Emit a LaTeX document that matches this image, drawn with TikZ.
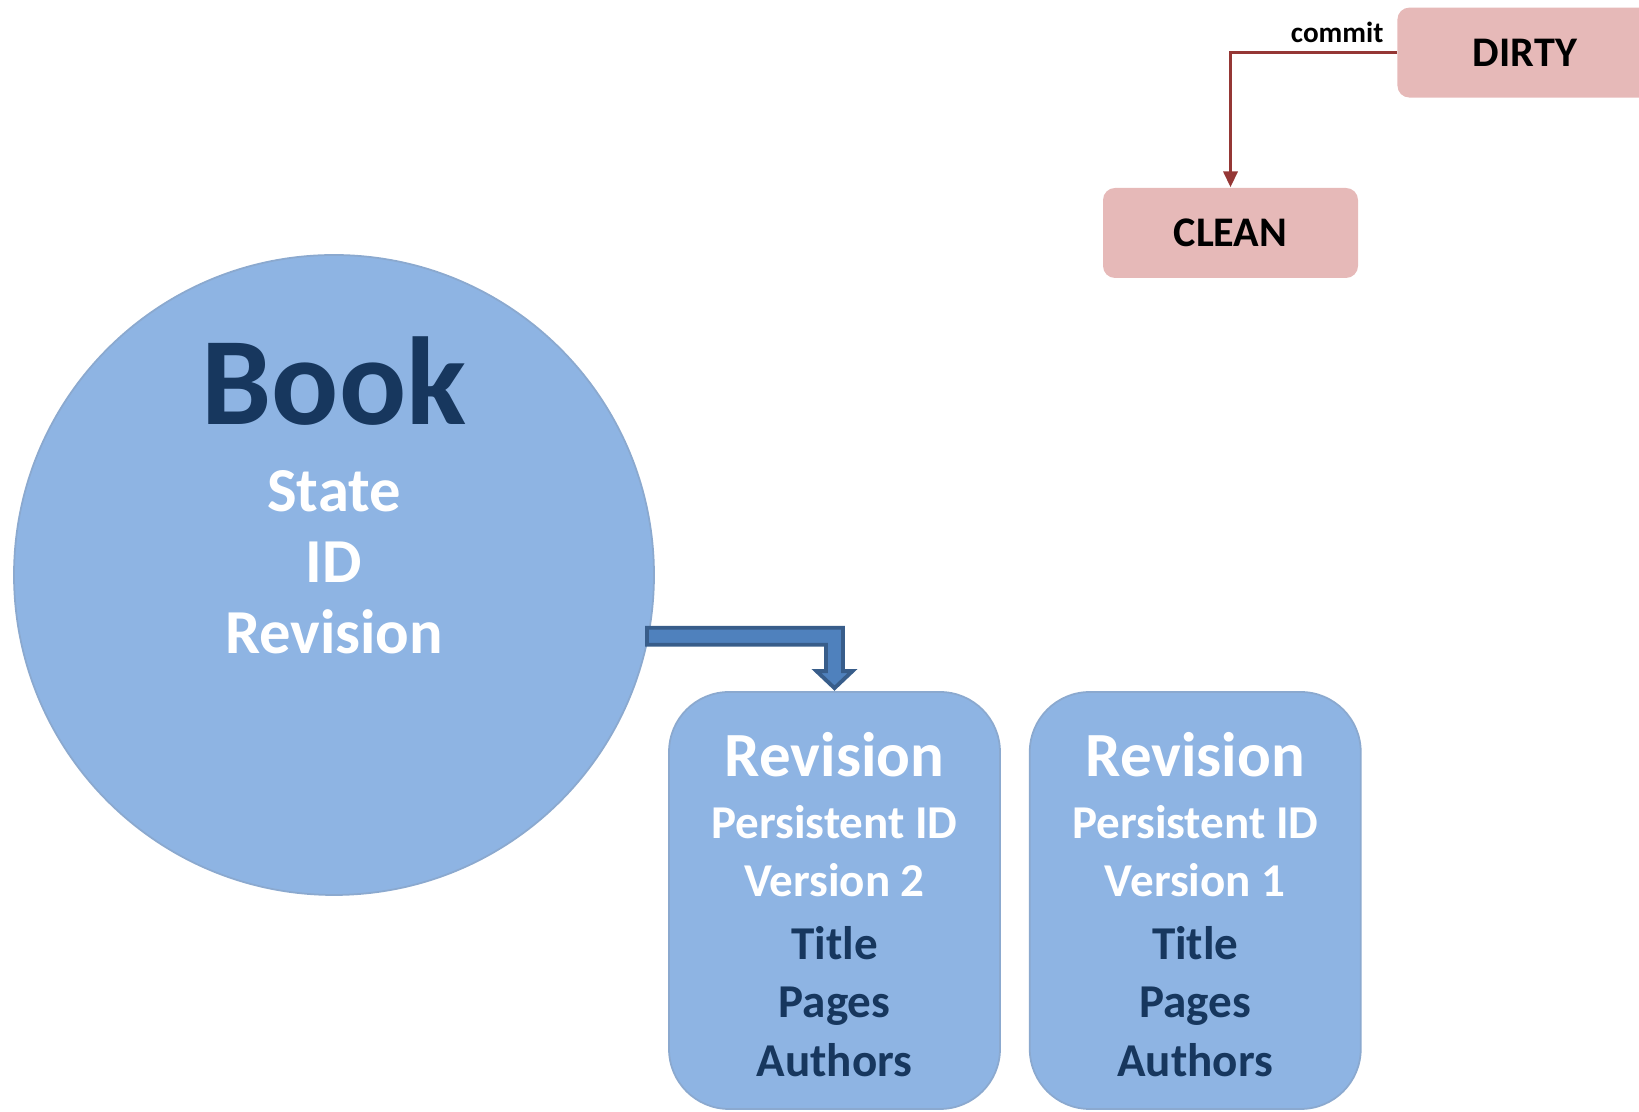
\documentclass[tikz,border=0pt]{standalone}
\usepackage{fontspec}
\setmainfont{Carlito}
\usetikzlibrary{arrows.meta, positioning, calc}
\definecolor{bookblue}{RGB}{142, 180, 227}
\definecolor{booknavy}{RGB}{23, 55, 94}
\definecolor{statepink}{RGB}{230, 185, 184}
\definecolor{commitred}{RGB}{149, 55, 53}
\definecolor{linkblue}{RGB}{79, 129, 189}
\definecolor{linkborder}{RGB}{56, 93, 138}

\begin{document}
\begin{tikzpicture}[
  bookcircle/.style={circle, fill=bookblue, draw=bookblue!80!gray, line width=0.5pt, minimum size=6.4cm, inner sep=0pt},
  revbox/.style={fill=bookblue, draw=bookblue!80!gray, line width=0.5pt, rounded corners=0.6cm, minimum width=3.31cm, minimum height=4.17cm, align=center, inner sep=0pt, font=\fontsize{13.4}{16.6}\selectfont\bfseries, text=booknavy},
  statebox/.style={fill=statepink, rounded corners=0.12cm, minimum width=2.55cm, minimum height=0.9cm, inner sep=0pt, font=\fontsize{12}{14}\selectfont\bfseries}
]
  \clip (0,0) rectangle (16.39,11.12);

  % Book entity
  \node[bookcircle] (book) at (3.34, 5.37) {};
  \node[align=center, font=\fontsize{17.8}{20.2}\selectfont\bfseries, text=white] (booktext) at ([yshift=0.8cm]book.center)
    {{\fontsize{35.6}{40}\selectfont\color{booknavy}Book}\\[4.5pt] State\\ ID\\ Revision};

  % Revisions
  \node[revbox] (rev2) at (8.345, 2.115)
    {{\fontsize{17.9}{21}\selectfont\color{white}\rule{0pt}{14.8pt}Revision}\\[1pt] \textcolor{white}{Persistent ID}\\ \textcolor{white}{Version 2}\\[1.3pt] Title\\ Pages\\ Authors};
  \node[revbox, right=0.28cm of rev2] (rev1)
    {{\fontsize{17.9}{21}\selectfont\color{white}\rule{0pt}{14.8pt}Revision}\\[1pt] \textcolor{white}{Persistent ID}\\ \textcolor{white}{Version 1}\\[1.3pt] Title\\ Pages\\ Authors};

  % Book -> current revision
  \coordinate (linkstart) at (book.-11);
  \coordinate (linkbend) at (rev2.north |- linkstart);
  \filldraw[fill=linkblue, draw=linkborder, line width=1.1pt, line join=miter]
    ($(linkstart)+(-0.02,0.085)$) -- ($(linkbend)+(0.085,0.085)$) -- ($(rev2.north)+(0.085,0.2)$)
    -- ($(rev2.north)+(0.18,0.2)$) -- ($(rev2.north)+(0,0.03)$) -- ($(rev2.north)+(-0.18,0.2)$)
    -- ($(rev2.north)+(-0.085,0.2)$) -- ($(linkbend)+(-0.085,-0.085)$) -- ($(linkstart)+(-0.02,-0.085)$) -- cycle;

  % States
  \node[statebox] (clean) at (12.305, 8.79) {CLEAN};
  \node[statebox, above right=0.89cm and 0.38cm of clean] (dirty) {DIRTY};
  \draw[commitred, line width=0.9pt, -{Triangle[width=4pt, length=4.5pt]}] (dirty.west) -| (clean.north)
    node[pos=0, above left, yshift=-1pt, text=black, font=\fontsize{8.3}{10}\selectfont\bfseries] (commitlabel) {commit};
\end{tikzpicture}
\end{document}
